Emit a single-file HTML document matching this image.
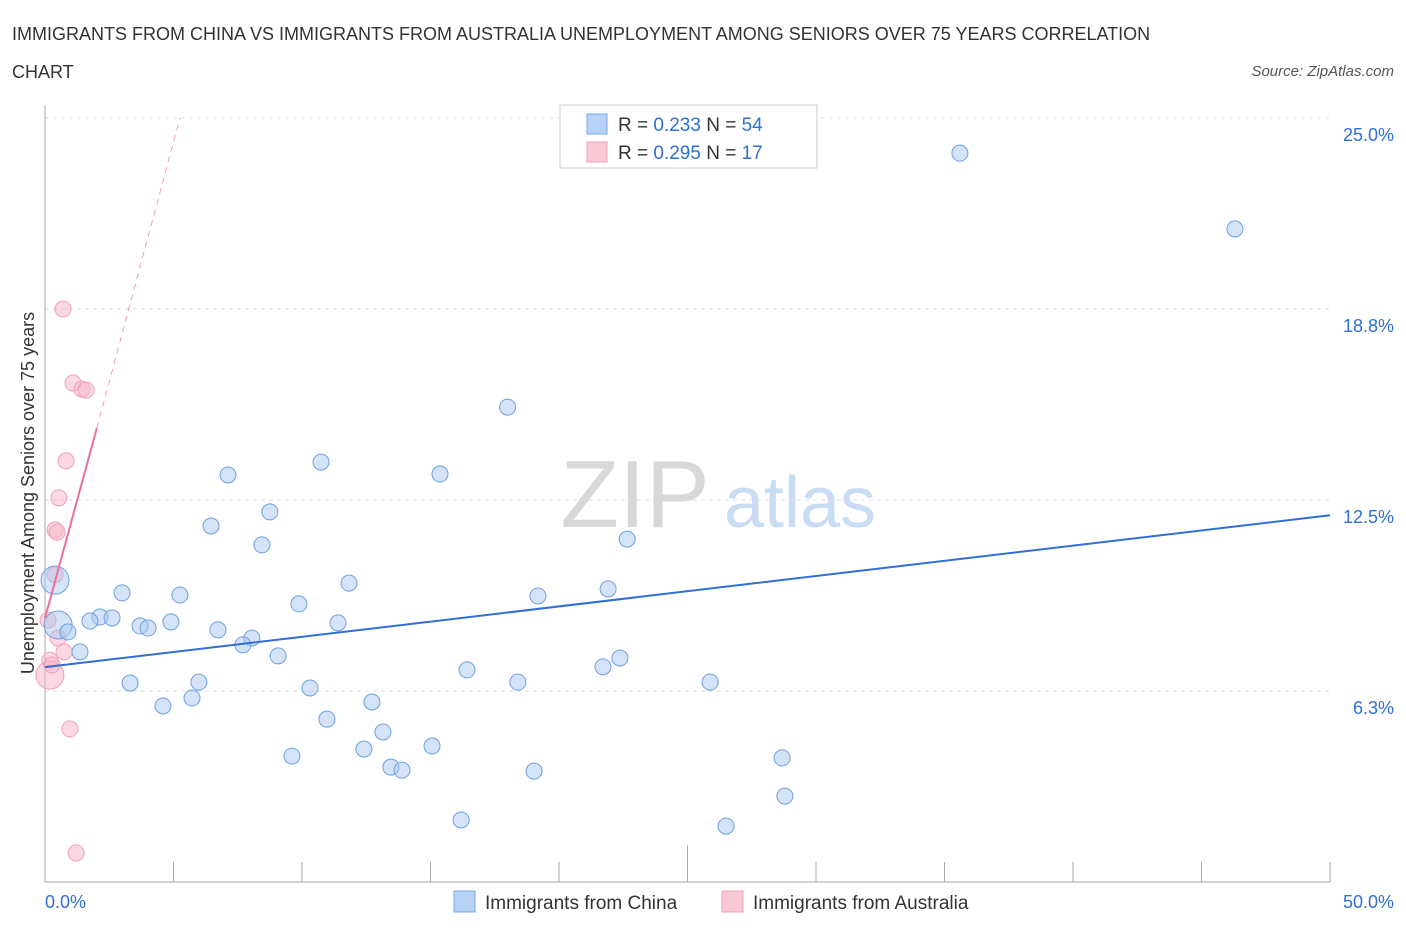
<!DOCTYPE html>
<html><head><meta charset="utf-8"><style>
body{margin:0;background:#fff;font-family:"Liberation Sans",sans-serif;}
svg text{font-family:"Liberation Sans",sans-serif;}
</style></head><body>
<svg id="chart" width="1406" height="930" viewBox="0 0 1406 930" xmlns="http://www.w3.org/2000/svg">
<text x="12" y="40" font-size="18" fill="#333">IMMIGRANTS FROM CHINA VS IMMIGRANTS FROM AUSTRALIA UNEMPLOYMENT AMONG SENIORS OVER 75 YEARS CORRELATION</text>
<text x="12" y="78" font-size="18" fill="#333">CHART</text>
<text x="1394" y="76" font-size="15" fill="#555" font-style="italic" text-anchor="end">Source: ZipAtlas.com</text>
<g>
<text x="635" y="527" font-size="96" fill="#d8d8d8" font-family="Liberation Serif,serif" text-anchor="middle">ZIP</text>
<text x="800" y="527" font-size="72" fill="#c9dcf3" text-anchor="middle">atlas</text>
</g>
<g id="grid"></g>
<g id="axes"></g>
<g id="marks"></g>
<g>
<rect x="560" y="105" width="257" height="63" fill="#fff" stroke="#ccc"/>
<rect x="587" y="114" width="20" height="20" fill="#b8d2f5" stroke="#7aaae8"/>
<text x="618" y="131" font-size="19" fill="#333">R = <tspan fill="#2f6fd6">0.233</tspan>   N = <tspan fill="#2f6fd6">54</tspan></text>
<rect x="587" y="142" width="20" height="20" fill="#fbc8d6" stroke="#f0a0b8"/>
<text x="618" y="159" font-size="19" fill="#333">R = <tspan fill="#2f6fd6">0.295</tspan>   N = <tspan fill="#2f6fd6"> 17</tspan></text>
</g>
<g>
<rect x="454" y="891" width="21" height="21" fill="#b8d2f5" stroke="#7aaae8"/>
<text x="485" y="909" font-size="19" fill="#333">Immigrants from China</text>
<rect x="722" y="891" width="21" height="21" fill="#fbc8d6" stroke="#f0a0b8"/>
<text x="753" y="909" font-size="19" fill="#333">Immigrants from Australia</text>
</g>
</svg>
<script>
const xTicks=[0,5,10,15,20,25,30,35,40,45,50];
const yTicks=[6.25,12.5,18.75,25];
const yTickLabels=["6.3%","12.5%","18.8%","25.0%"];
const chinaX=[35.6,46.3,18.0,10.74,15.37,7.12,8.75,6.46,22.65,8.44,11.83,21.91,3.0,5.25,19.18,9.88,2.14,2.61,1.75,4.90,3.70,4.01,11.40,6.73,8.05,7.70,9.07,22.37,21.71,16.42,18.40,25.88,3.31,5.99,10.31,5.72,4.59,12.72,10.97,13.15,15.06,12.41,9.61,28.68,13.46,13.89,19.03,28.79,16.19,26.50,0.39,0.51,0.89,1.36];
const chinaY=[23.85,21.37,15.54,13.74,13.35,13.32,12.11,11.65,11.22,11.03,9.78,9.59,9.46,9.39,9.36,9.10,8.67,8.64,8.54,8.51,8.38,8.31,8.48,8.25,7.98,7.76,7.40,7.33,7.04,6.94,6.54,6.54,6.51,6.54,6.35,6.02,5.76,5.89,5.33,4.91,4.45,4.35,4.12,4.06,3.76,3.66,3.63,2.81,2.03,1.83,9.88,8.41,8.18,7.53];
const chinaBig=[50,51];
const ausX=[0.70,1.09,1.44,1.60,0.82,0.54,0.39,0.47,0.39,0.51,0.74,0.19,0.19,0.97,1.21,0.12,0.27];
const ausY=[18.75,16.33,16.13,16.10,13.78,12.57,11.52,11.45,10.05,7.98,7.53,7.26,6.77,5.01,0.95,8.57,7.10];
const ausBig=[12];
const chinaTrend=[7.03,12.0];
const ausTrend=[8.64,14.86,25.0];
const ausTrendX=[0,2.02,5.25];
const NS="http://www.w3.org/2000/svg";
const sx=v=>45+v*25.7, sy=v=>882-v*30.56;
function mk(tag,attrs,parent){const e=document.createElementNS(NS,tag);for(const k in attrs)e.setAttribute(k,attrs[k]);document.getElementById(parent).appendChild(e);return e;}
yTicks.forEach((t,i)=>{
 const g=mk('line',{x1:45,x2:1330,y1:sy(t),y2:sy(t),stroke:'#ddd','stroke-dasharray':'4,4'},'grid');
 
 
 const l=mk('text',{x:1394,y:sy(t)+23,'font-size':18,fill:'#2f6fd6','text-anchor':'end'},'axes');
 l.textContent=yTickLabels[i];
 
 
});
const ya=mk('line',{x1:45,x2:45,y1:105,y2:882,stroke:'#aaa'},'axes');


const xa=mk('line',{x1:45,x2:1330,y1:882,y2:882,stroke:'#aaa'},'axes');


xTicks.forEach((t,i)=>{
 const tk=mk('line',{x1:sx(t),x2:sx(t),y1:(i==5?845:862),y2:882,stroke:'#aaa'},'axes');
 
 
});
const xl0=mk('text',{x:45,y:908,'font-size':18,fill:'#2f6fd6'},'axes');xl0.textContent='0.0%';


const xl1=mk('text',{x:1394,y:908,'font-size':18,fill:'#2f6fd6','text-anchor':'end'},'axes');xl1.textContent='50.0%';


const yt=mk('text',{x:34,y:493,'font-size':18,fill:'#333','text-anchor':'middle',transform:'rotate(-90 34 493)'},'axes');
yt.textContent='Unemployment Among Seniors over 75 years';


ausX.forEach((x,i)=>{
 const c=mk('circle',{cx:sx(x),cy:sy(ausY[i]),r:ausBig.includes(i)?14:8,fill:'rgba(248,180,200,0.5)',stroke:'#f0a0b8','stroke-width':1},'marks');
 
 
});
chinaX.forEach((x,i)=>{
 const c=mk('circle',{cx:sx(x),cy:sy(chinaY[i]),r:chinaBig.includes(i)?14:8,fill:'rgba(170,200,240,0.5)',stroke:'#6fa0e0','stroke-width':1},'marks');
 
 
});
const bl=mk('line',{x1:sx(0),y1:sy(chinaTrend[0]),x2:sx(50),y2:sy(chinaTrend[1]),stroke:'#2f6fd6','stroke-width':2},'marks');


const pl=mk('line',{x1:sx(ausTrendX[0]),y1:sy(ausTrend[0]),x2:sx(ausTrendX[1]),y2:sy(ausTrend[1]),stroke:'#e8709a','stroke-width':2},'marks');


const pd=mk('line',{x1:sx(ausTrendX[1]),y1:sy(ausTrend[1]),x2:sx(ausTrendX[2]),y2:sy(ausTrend[2]),stroke:'#f0a0b8','stroke-width':1,'stroke-dasharray':'6,5'},'marks');


</script>
</body></html>
